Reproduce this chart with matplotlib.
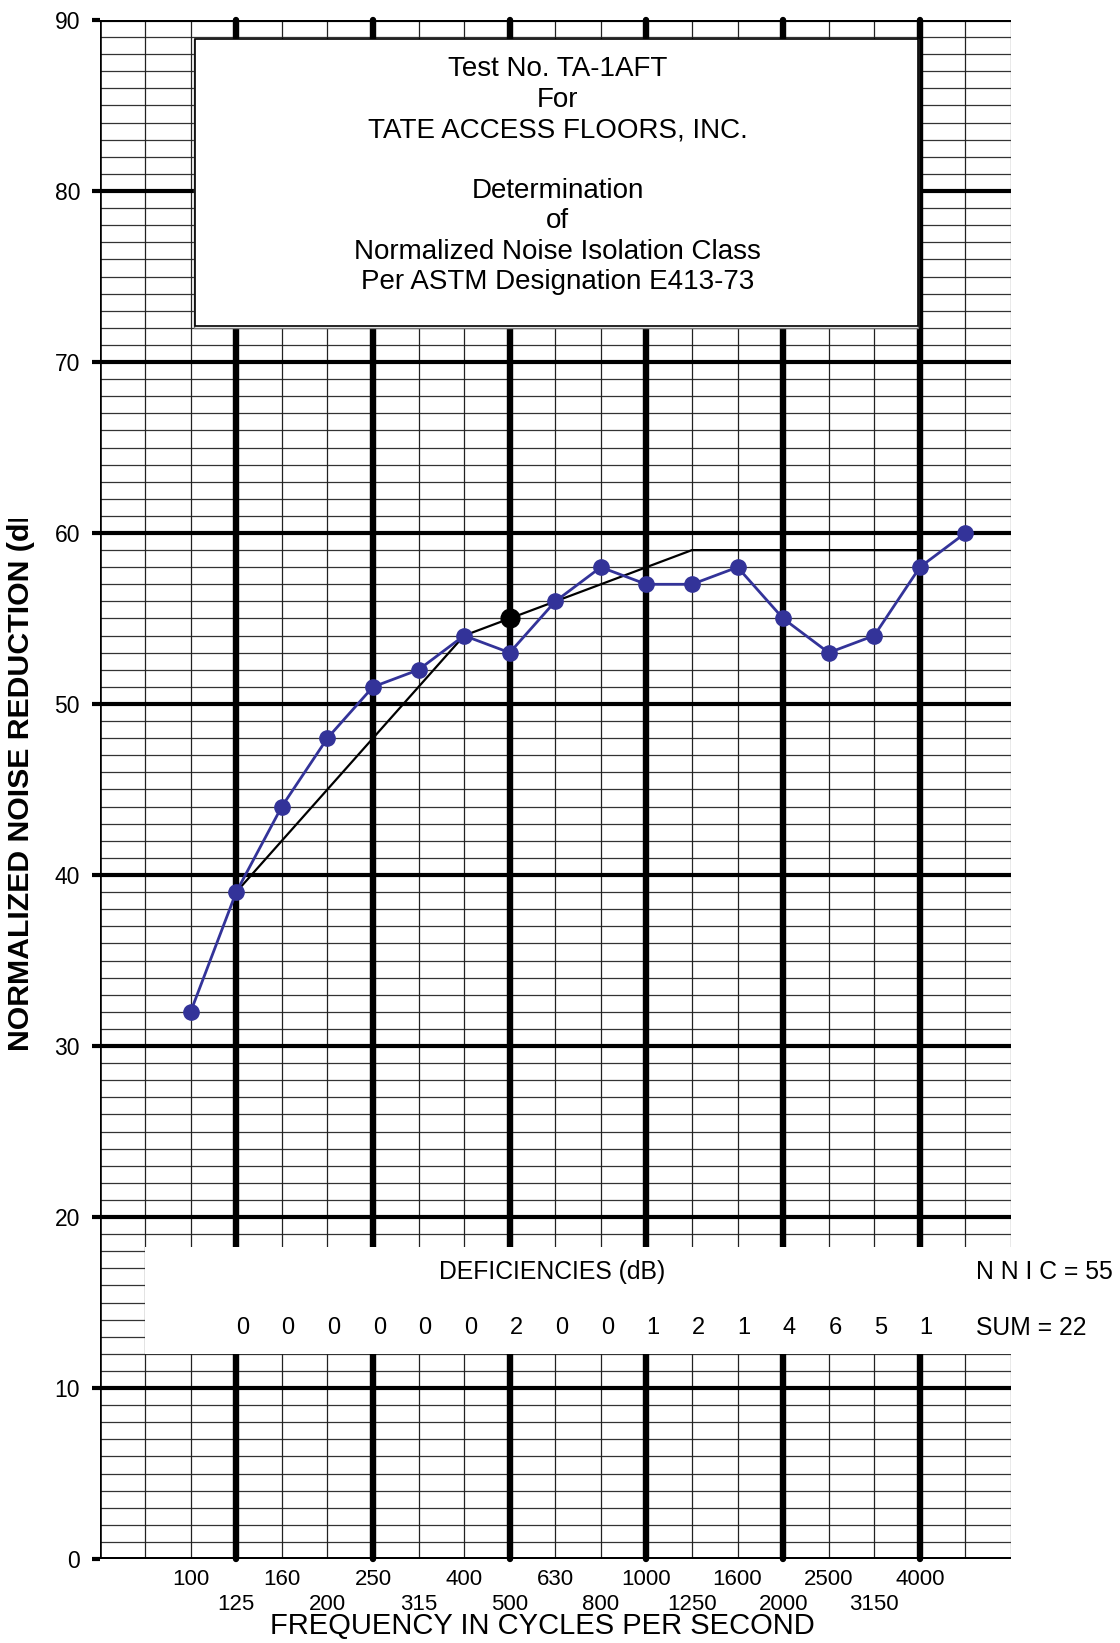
import matplotlib.pyplot as plt
from matplotlib.patches import Rectangle

plt.rcParams['font.family'] = ['Liberation Sans', 'DejaVu Sans']

# one-third octave band centres along the grid (63 Hz .. 6300 Hz)
bands = ["63", "80", "100", "125", "160", "200", "250", "315", "400", "500",
         "630", "800", "1000", "1250", "1600", "2000", "2500", "3150",
         "4000", "5000", "6300"]
octave_bands = ["125", "250", "500", "1000", "2000", "4000"]
tick_bands = ["100", "125", "160", "200", "250", "315", "400", "500", "630",
              "800", "1000", "1250", "1600", "2000", "2500", "3150", "4000"]

# measured normalized noise reduction
meas_bands = ["100", "125", "160", "200", "250", "315", "400", "500", "630",
              "800", "1000", "1250", "1600", "2000", "2500", "3150", "4000", "5000"]
meas_nr = [32, 39, 44, 48, 51, 52, 54, 53, 56, 58, 57, 57, 58, 55, 53, 54, 58, 60]

# NNIC-55 reference contour
contour_bands = ["125", "400", "500", "1250", "4000"]
contour_nr = [39, 54, 55, 59, 59]

# deficiencies per band 125..4000
def_bands = tick_bands[1:]
deficiencies = [0, 0, 0, 0, 0, 0, 2, 0, 0, 1, 2, 1, 4, 6, 5, 1]
nnic = 55
def_sum = 22

title_lines = ["Test No. TA-1AFT", "For", "TATE ACCESS FLOORS, INC.", "",
               "Determination", "of", "Normalized Noise Isolation Class",
               "Per ASTM Designation E413-73"]

pos = {b: i for i, b in enumerate(bands)}

W, H = 1120, 1643
fig = plt.figure(figsize=(W / 100, H / 100), dpi=100)
ax = fig.add_axes([99.5 / W, (H - 1559) / H, (1011 - 99.5) / W, (1559 - 20) / H])
ax.set_xlim(0, 20)
ax.set_ylim(0, 90)
for s in ax.spines.values():
    s.set_visible(False)

# grid paper
for y in range(1, 90):
    if y % 10:
        ax.axhline(y, color='#333333', lw=0.9, zorder=1)
for y in range(10, 91, 10):
    ax.axhline(y, color='black', lw=3.0, zorder=2, solid_capstyle='butt')
for b in bands[1:]:
    if b in octave_bands:
        ax.axvline(pos[b], color='black', lw=4.6, zorder=2,
                   solid_capstyle='round', clip_on=False)
    else:
        ax.axvline(pos[b], color='#555555' if b == "6300" else '#222222',
                   lw=0.9, zorder=1)
ax.axvline(0, color='black', lw=2.6, zorder=2)
ax.axhline(0, color='black', lw=3.6, zorder=2)

# ticks
ax.set_yticks(range(0, 91, 10))
ax.tick_params(axis='y', length=6, width=3, pad=8, labelsize=16.5)
up = [b for b in tick_bands if pos[b] % 2 == 0]
lo = [b for b in tick_bands if pos[b] % 2 == 1]
ax.set_xticks([pos[b] for b in up], up)
ax.set_xticks([pos[b] for b in lo], lo, minor=True)
ax.tick_params(axis='x', which='major', length=0, pad=7, labelsize=16)
ax.tick_params(axis='x', which='minor', length=0, pad=25, labelsize=16)

# title box
ax.add_patch(Rectangle((2.07, 72.0), 15.9, 16.9, facecolor='white',
                       edgecolor='#777777', lw=1.0, zorder=3))
ax.add_patch(Rectangle((2.1, 72.1), 15.87, 16.8, facecolor='white',
                       edgecolor='black', lw=1.2, zorder=3))
ax.text(10.05, 80.9, "\n".join(title_lines), ha='center', va='center',
        multialignment='center', fontsize=20, linespacing=1.22, zorder=4)

# deficiency box
ax.add_patch(Rectangle((1.0, 12.0), 23, 6.25, facecolor='white',
                       edgecolor='none', zorder=3, clip_on=False))
ax.text(9.93, 16.8, "DEFICIENCIES (dB)", ha='center', va='center',
        fontsize=17.8, zorder=4)
for b, d in zip(def_bands, deficiencies):
    ax.text(pos[b] + 0.14, 13.5, str(d), ha='center', va='center',
            fontsize=17, zorder=4)
ax.text(19.24, 16.8, f"N N I C = {nnic}", ha='left', va='center',
        fontsize=17.8, zorder=4, clip_on=False)
ax.text(19.24, 13.5, f"SUM = {def_sum}", ha='left', va='center',
        fontsize=17.8, zorder=4, clip_on=False)

# contour and measured data
ax.plot([pos[b] for b in contour_bands], contour_nr, color='black', lw=1.6,
        zorder=5)
ax.plot([pos[b] for b in meas_bands], meas_nr, color='#333399', lw=2.0,
        marker='o', markersize=11, zorder=6)
ax.plot([pos["500"]], [nnic], marker='o', color='black', markersize=13.5, zorder=7)

# axis titles
fig.text(517.5 * 1.0477 / W, 1 - 1626 / H, "FREQUENCY IN CYCLES PER SECOND",
         ha='center', va='center', fontsize=21)
fig.text(21 / W, 1 - 1051 / H, "NORMALIZED NOISE REDUCTION (dB)",
         rotation=90, ha='center', va='bottom', fontsize=21.8,
         fontweight='bold', zorder=3)
# the original label is cut off at its top end
fig.add_artist(Rectangle((0, 1 - 519 / H), 45 / W, 120 / H,
                         transform=fig.transFigure, facecolor='white',
                         edgecolor='none', zorder=10))

fig.savefig("out.png", dpi=100)
